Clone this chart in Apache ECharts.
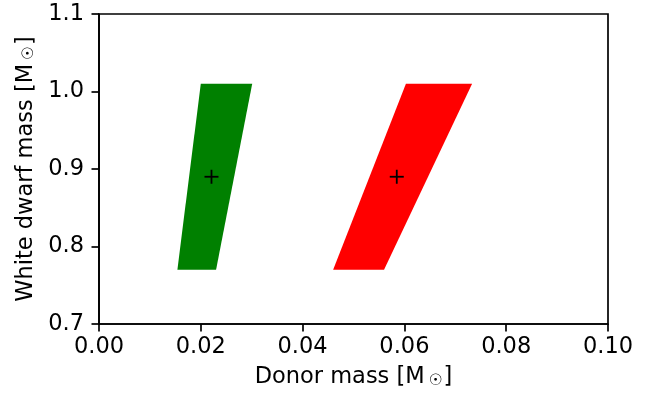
<!DOCTYPE html>
<html>
<head>
<meta charset="utf-8">
<script src="https://cdn.jsdelivr.net/npm/echarts@6/dist/echarts.min.js"></script>
<style>html,body{margin:0;padding:0;background:#fff}#chart{width:660px;height:396px}</style>
</head>
<body>
<div id="chart"></div>
<script>
// Allowed regions in the donor-mass / white-dwarf-mass plane
const greenRegion = [[0.0154, 0.77], [0.0230, 0.77], [0.0301, 1.01], [0.0200, 1.01]];
const redRegion = [[0.0460, 0.77], [0.0560, 0.77], [0.0733, 1.01], [0.0603, 1.01]];
// Best-fit points
const bestFit = [[0.0221, 0.89], [0.0585, 0.89]];
const xTicks = [0.00, 0.02, 0.04, 0.06, 0.08, 0.10];
const yTicks = [0.7, 0.8, 0.9, 1.0, 1.1];

const FONT = 'DejaVu Sans';
const chart = echarts.init(document.getElementById('chart'), null, { renderer: 'canvas' });

function polygonSeries(points, color) {
  return {
    type: 'custom',
    coordinateSystem: 'cartesian2d',
    data: [0],
    silent: true,
    renderItem: function (params, api) {
      return {
        type: 'polygon',
        shape: { points: points.map(p => api.coord(p)) },
        style: { fill: color, stroke: null }
      };
    },
    z: 2
  };
}

const axisCommon = {
  axisLine: { show: true, lineStyle: { color: '#000', width: 1.7 } },
  axisTick: { show: true, inside: false, length: 7.5, lineStyle: { color: '#000', width: 1.7 } },
  splitLine: { show: false },
  axisLabel: { color: '#000', fontFamily: FONT, fontSize: 22.5 },
  nameLocation: 'middle',
  nameTextStyle: {
    color: '#000', fontFamily: FONT, fontSize: 22.5,
    rich: { sub: { fontFamily: FONT, fontSize: 15.5, verticalAlign: 'bottom', padding: [0, 1, 0, 4], color: '#000' } }
  }
};

chart.setOption({
  animation: false,
  backgroundColor: '#fff',
  grid: { left: 99, right: 52, top: 14, bottom: 72, show: true, borderColor: '#000', borderWidth: 1.7 },
  xAxis: Object.assign({}, axisCommon, {
    type: 'value', min: xTicks[0], max: xTicks[xTicks.length - 1], interval: 0.02,
    name: 'Donor mass [M{sub|☉}]', nameGap: 42,
    axisLabel: Object.assign({}, axisCommon.axisLabel, { margin: 12, formatter: v => v.toFixed(2) })
  }),
  yAxis: Object.assign({}, axisCommon, {
    type: 'value', min: yTicks[0], max: yTicks[yTicks.length - 1], interval: 0.1,
    name: 'White dwarf mass [M{sub|☉}]', nameGap: 59, nameRotate: 90,
    axisLabel: Object.assign({}, axisCommon.axisLabel, { margin: 15, formatter: v => v.toFixed(1) })
  }),
  series: [
    polygonSeries(greenRegion, '#008000'),
    polygonSeries(redRegion, '#ff0000'),
    {
      type: 'custom',
      coordinateSystem: 'cartesian2d',
      data: bestFit,
      silent: true,
      z: 5,
      renderItem: function (params, api) {
        const c = api.coord([api.value(0), api.value(1)]);
        const h = 7;
        return {
          type: 'group',
          children: [
            { type: 'line', shape: { x1: c[0] - h, y1: c[1], x2: c[0] + h, y2: c[1] }, style: { stroke: '#000', lineWidth: 1.8 } },
            { type: 'line', shape: { x1: c[0], y1: c[1] - h, x2: c[0], y2: c[1] + h }, style: { stroke: '#000', lineWidth: 1.8 } }
          ]
        };
      }
    }
  ]
});
</script>
</body>
</html>
